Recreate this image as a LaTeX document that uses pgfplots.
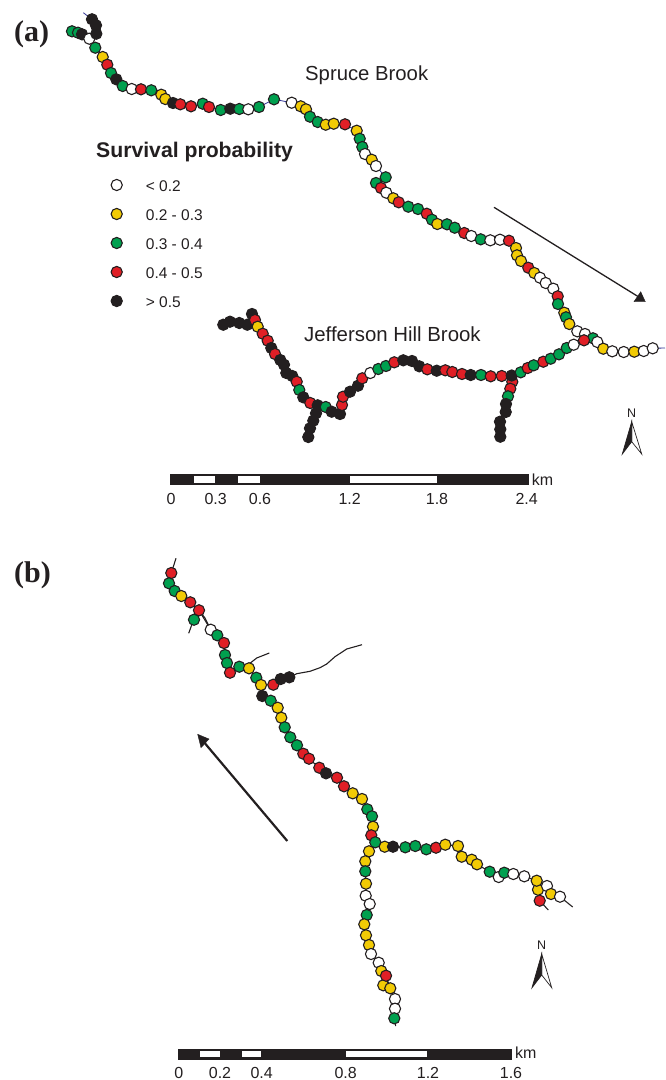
\documentclass[border=0pt]{standalone}
\usepackage{fontspec}
\setmainfont{Liberation Sans}
\newfontfamily\serifbf{Liberation Serif}
\usepackage{pgfplots}
\usepackage{pgfplotstable}
\pgfplotsset{compat=1.18}

\definecolor{ink}{HTML}{231F20}
\definecolor{dotred}{HTML}{E01F26}
\definecolor{dotyel}{HTML}{F2CB05}
\definecolor{dotgrn}{HTML}{00A04F}
\definecolor{riverblue}{HTML}{2E3192}

% positions are in picture pixels, y runs downwards
\pgfplotstableread{
x y c
72 31.3 g
78 32.7 g
82 34.3 k
89.3 38.7 w
95.3 47.7 g
102.7 57 y
107.3 64.7 r
111 73 g
116.3 79.3 k
122.7 86 g
131.7 89 w
141 89.3 r
151.3 90.3 g
161.3 94.7 y
165.3 99 y
173 103 k
180.3 104.3 r
191 106.3 r
202.7 103.7 g
209 107 r
220.7 110 g
230.3 108.7 k
239.3 109 g
248.3 109.3 w
259 107 g
274 99.3 g
291.7 102.7 w
300.7 106.3 y
306 109.3 y
310 116.7 g
317.7 122 g
325.7 124.7 y
333.7 123.7 y
345 124.3 r
356.7 130.7 y
359.7 138.7 g
362.3 147 g
365 154 w
371.7 159.7 y
376 166 w
385.7 177.3 g
376 183 g
381 188 r
386.3 192.7 w
393.3 198.3 y
398.7 202.3 r
408.3 206.7 g
418 209 g
426.7 213.7 r
432 219.7 g
437.3 224 y
447 224.3 g
454.7 227.7 g
464.3 233 r
471.3 236 w
480.7 239.3 g
490.3 240.3 w
500 239.7 w
509 240.7 r
516 248 y
517 255.3 y
521 261 y
528.3 267.7 r
534.3 273 y
540 277.7 w
545.7 283 w
553.3 288.7 w
557.7 296.3 r
558 304 g
564.3 312.7 y
566 317.3 g
569.3 324 y
577.3 331.3 w
585 334 w
593 338.3 g
597.3 342 w
603.3 348.7 y
612.3 351.3 w
623.7 352 w
634.3 351.7 y
643.7 351 w
652.7 348.3 w
}\spruce

\pgfplotstableread{
x y c
92 19.3 k
96 25.3 k
96.3 33.7 k
}\sprucehead

\pgfplotstableread{
x y c
223.3 324.7 k
230 321.7 k
239.3 323 k
247.3 324.7 k
252 314 k
255 320 r
257.7 326.7 y
262.7 333.7 r
267.7 340.7 r
271.3 348 k
275 354 r
280.3 360 k
284 364.7 k
286.3 373 k
292.3 376 k
296.7 381.7 r
299.3 390 g
303.3 397.3 k
310.3 403 r
317.7 405.3 k
325.7 407 g
331.7 411.7 k
340 414 k
342 405 r
343 396.7 r
350 391.7 k
358 385.7 k
362.3 378.3 r
370.3 373 w
378.3 369 g
386 366 g
394.3 362.3 r
403.3 360.3 k
412 361 k
419.3 366.3 k
427.3 369.3 r
436.7 370.7 k
445.3 370.3 r
452.3 372 r
462 374 r
470.7 375 k
481 375 g
490.7 376.3 r
501.7 376 r
511.7 375.5 k
520.7 372.3 g
527.7 368 r
533.7 365.3 g
543.3 361.7 r
550.7 358.7 g
559 354.3 g
566.7 348 g
573.7 344.7 w
584 340.3 r
}\jefferson

\pgfplotstableread{
x y c
512.3 381.7 r
510.3 388.7 r
508 396.3 g
506 404 k
505.7 412 k
500 421.7 k
500.3 429.3 k
500.3 436.7 k
}\jeffright

\pgfplotstableread{
x y c
316 413.3 k
313.3 420.7 k
310 428.3 k
308.3 437 k
}\jeffleft

\pgfplotstableread{
x y c
176 558.3 n
171.3 573 r
169 583.3 g
174.7 591 g
181.3 596 y
190.3 602.3 r
199 610.3 r
210.7 629.7 w
217.3 635.3 g
224 643 r
225 655 g
227 663 g
230 672.7 r
239.3 666.7 g
249 668.3 y
256.3 677.7 g
261 685 y
262.3 696 k
270.7 700.7 g
277.7 707.7 y
281.3 717.7 y
284.7 727.3 g
290.3 737.3 g
297 745.3 g
303.3 753.7 r
309 758.7 r
319.3 767.7 r
326 773.3 k
337 777.7 r
344 786.3 r
352.7 793.3 y
362 799 y
367.3 809.3 g
372 816.3 g
373 826.7 y
371.3 835.3 r
375.3 842.3 g
384.7 846.7 y
393 846.7 k
405.3 847.3 g
415.3 846 g
426.3 849.3 g
436 847.7 r
445.3 844.7 y
458 846 y
461.7 856.7 y
471.7 859.7 y
477 864.3 y
489.7 871.7 g
498.7 877 w
504.3 872.7 g
513.3 874 w
524.3 876.3 w
536.7 880.7 y
547 886 w
551 894 y
560 896.7 w
572.7 907 n
}\brookb

\pgfplotstableread{
x y c
369 851.3 y
365.3 861.3 y
365.3 871.3 g
366 883.7 y
365.7 895.7 w
369.7 904 w
366.7 915 g
364.3 924.3 y
366 935.3 y
369 945 y
371 954 w
378.7 962.7 w
381.3 971 y
383.3 985.3 y
386 975.7 r
390.3 988.3 y
395 999 w
395 1008.7 w
394.3 1018.3 g
395.7 1026 n
}\brookbsouth

\pgfplotstableread{
x y c
538 889.7 y
539.7 900.7 r
548.3 910 n
}\brookbend

\pgfplotstableread{
x y c
188.7 633.3 n
191.7 625 n
194 619.7 g
}\brookbstub

\pgfplotstableread{
x y c
273.3 684.7 r
280.7 679 k
289.3 677.3 k
296.7 673.7 n
310 671.3 n
320 667.7 n
326.7 664 n
335 656.7 n
346.7 649 n
362 644.7 n
}\brookbeast

\pgfplotsset{
  dots/.style={only marks, scatter, scatter src=explicit symbolic, mark size=5.6pt,
    scatter/classes={
      n={mark=none},
      w={mark=*,draw=ink,fill=white,line width=1.1pt},
      y={mark=*,draw=ink,fill=dotyel,line width=1.1pt},
      g={mark=*,draw=ink,fill=dotgrn,line width=1.1pt},
      r={mark=*,draw=ink,fill=dotred,line width=1.1pt},
      k={mark=*,draw=ink,fill=ink,line width=1.1pt}}},
}
\tikzset{
  txt/.style={inner sep=0pt, anchor=west, text=ink},
  ctr/.style={inner sep=0pt, anchor=center, text=ink},
}

\begin{document}
\begin{tikzpicture}
\path[use as bounding box] (0,0) rectangle (665pt,1080pt);
\begin{axis}[
  hide axis, scale only axis, width=665pt, height=1080pt,
  xmin=0, xmax=665, ymin=0, ymax=1080, y dir=reverse, clip=false,
]
% river lines
\addplot[riverblue, line width=0.8pt] coordinates {(83.3,12.7) (92,19.3)};
\addplot[riverblue, line width=0.8pt] table[x=x,y=y] {\spruce};
\addplot[riverblue, line width=0.8pt] coordinates {(652.7,348.3) (665,348)};
\addplot[ink, line width=1.1pt] table[x=x,y=y] {\brookb};
\addplot[ink, line width=1.1pt] table[x=x,y=y] {\brookbsouth};
\addplot[ink, line width=1.1pt] table[x=x,y=y] {\brookbend};
\addplot[ink, line width=1.1pt] table[x=x,y=y] {\brookbstub};
\addplot[ink, line width=1.1pt] table[x=x,y=y] {\brookbeast};
\addplot[ink, line width=1.1pt] coordinates {(250,663.3) (256.7,658) (269.3,653)};
\addplot[ink, line width=1.1pt] coordinates {(199,610.3) (205,618) (210.7,629.7)};
\addplot[ink, line width=1.1pt] coordinates {(375.3,842.3) (369,851.3)};

% dots
\addplot[dots] table[x=x,y=y,meta=c] {\spruce};
\addplot[dots] table[x=x,y=y,meta=c] {\sprucehead};
\addplot[dots] table[x=x,y=y,meta=c] {\jeffright};
\addplot[dots] table[x=x,y=y,meta=c] {\jeffleft};
\addplot[dots] table[x=x,y=y,meta=c] {\jefferson};
\addplot[dots] table[x=x,y=y,meta=c] {\brookbsouth};
\addplot[dots] table[x=x,y=y,meta=c] {\brookbend};
\addplot[dots] table[x=x,y=y,meta=c] {\brookbstub};
\addplot[dots] table[x=x,y=y,meta=c] {\brookbeast};
\addplot[dots] table[x=x,y=y,meta=c] {\brookb};

% legend
\addplot[dots] coordinates {(116.7,185) [w] (116.7,214) [y] (116.7,243) [g] (116.7,272) [r] (116.7,301) [k]};
\node[txt] at (axis cs:96,152.5) {\fontsize{21.2}{24}\selectfont\bfseries Survival probability};
\node[txt] at (axis cs:145.7,186) {\fontsize{15.5}{18}\selectfont < 0.2};
\node[txt] at (axis cs:145.7,215) {\fontsize{15.5}{18}\selectfont 0.2 - 0.3};
\node[txt] at (axis cs:145.7,244) {\fontsize{15.5}{18}\selectfont 0.3 - 0.4};
\node[txt] at (axis cs:145.7,273) {\fontsize{15.5}{18}\selectfont 0.4 - 0.5};
\node[txt] at (axis cs:145.7,302) {\fontsize{15.5}{18}\selectfont > 0.5};

% names and panel letters
\node[txt] at (axis cs:305,75) {\fontsize{20.3}{24}\selectfont Spruce Brook};
\node[txt] at (axis cs:304,334) {\fontsize{20.4}{24}\selectfont Jefferson Hill Brook};
\node[txt] at (axis cs:14,34) {\fontsize{30}{34}\selectfont\serifbf\bfseries (a)};
\node[txt] at (axis cs:14,575) {\fontsize{30}{34}\selectfont\serifbf\bfseries (b)};

% flow arrows
\addplot[ink, line width=1.3pt] coordinates {(494,207.3) (638,296.5)};
\addplot[fill=ink, draw=ink, line width=0.4pt] coordinates {(640.7,291.7) (634,301.7) (645.3,301.7)} -- cycle;
\addplot[ink, line width=2.2pt] coordinates {(287.3,841) (203,741)};
\addplot[fill=ink, draw=ink, line width=0.4pt] coordinates {(197.7,734.3) (209,739) (201,747.7)} -- cycle;

% scale bar a
\addplot[fill=ink, draw=ink, line width=0.6pt] coordinates {(170.7,474.7) (528,474.7) (528,484.7) (170.7,484.7)} -- cycle;
\addplot[fill=white, draw=none] coordinates {(194,476.3) (215.3,476.3) (215.3,483) (194,483)} -- cycle;
\addplot[fill=white, draw=none] coordinates {(238.3,476.3) (260,476.3) (260,483) (238.3,483)} -- cycle;
\addplot[fill=white, draw=none] coordinates {(349.7,476.3) (437.3,476.3) (437.3,483) (349.7,483)} -- cycle;
\node[ctr] at (axis cs:171,499) {\fontsize{16}{18}\selectfont 0};
\node[ctr] at (axis cs:215.7,499) {\fontsize{16}{18}\selectfont 0.3};
\node[ctr] at (axis cs:260,499) {\fontsize{16}{18}\selectfont 0.6};
\node[ctr] at (axis cs:349.7,499) {\fontsize{16}{18}\selectfont 1.2};
\node[ctr] at (axis cs:437,499) {\fontsize{16}{18}\selectfont 1.8};
\node[ctr] at (axis cs:526.7,499) {\fontsize{16}{18}\selectfont 2.4};
\node[txt] at (axis cs:531.7,479.5) {\fontsize{16}{18}\selectfont km};

% scale bar b
\addplot[fill=ink, draw=ink, line width=0.6pt] coordinates {(178.3,1049) (511.7,1049) (511.7,1059) (178.3,1059)} -- cycle;
\addplot[fill=white, draw=none] coordinates {(200.3,1050.6) (220,1050.6) (220,1057.4) (200.3,1057.4)} -- cycle;
\addplot[fill=white, draw=none] coordinates {(242,1050.6) (261,1050.6) (261,1057.4) (242,1057.4)} -- cycle;
\addplot[fill=white, draw=none] coordinates {(345.7,1050.6) (427.3,1050.6) (427.3,1057.4) (345.7,1057.4)} -- cycle;
\node[ctr] at (axis cs:178.7,1072.5) {\fontsize{16}{18}\selectfont 0};
\node[ctr] at (axis cs:220,1072.5) {\fontsize{16}{18}\selectfont 0.2};
\node[ctr] at (axis cs:261.7,1072.5) {\fontsize{16}{18}\selectfont 0.4};
\node[ctr] at (axis cs:345.7,1072.5) {\fontsize{16}{18}\selectfont 0.8};
\node[ctr] at (axis cs:428,1072.5) {\fontsize{16}{18}\selectfont 1.2};
\node[ctr] at (axis cs:511,1072.5) {\fontsize{16}{18}\selectfont 1.6};
\node[txt] at (axis cs:515,1053) {\fontsize{16}{18}\selectfont km};

% north arrows
\addplot[fill=white, draw=ink, line width=0.7pt] coordinates {(631.7,421.7) (641.7,454) (631.7,441.7)} -- cycle;
\addplot[fill=ink, draw=ink, line width=0.7pt] coordinates {(631.7,421.7) (622.3,454) (631.7,441.7)} -- cycle;
\node[ctr] at (axis cs:631.7,412.7) {\fontsize{12.5}{15}\selectfont N};
\addplot[fill=white, draw=ink, line width=0.7pt] coordinates {(541.7,954) (551.7,987.7) (541.7,975)} -- cycle;
\addplot[fill=ink, draw=ink, line width=0.7pt] coordinates {(541.7,954) (532,987.7) (541.7,975)} -- cycle;
\node[ctr] at (axis cs:541.7,945) {\fontsize{12.5}{15}\selectfont N};
\end{axis}
\end{tikzpicture}
\end{document}
